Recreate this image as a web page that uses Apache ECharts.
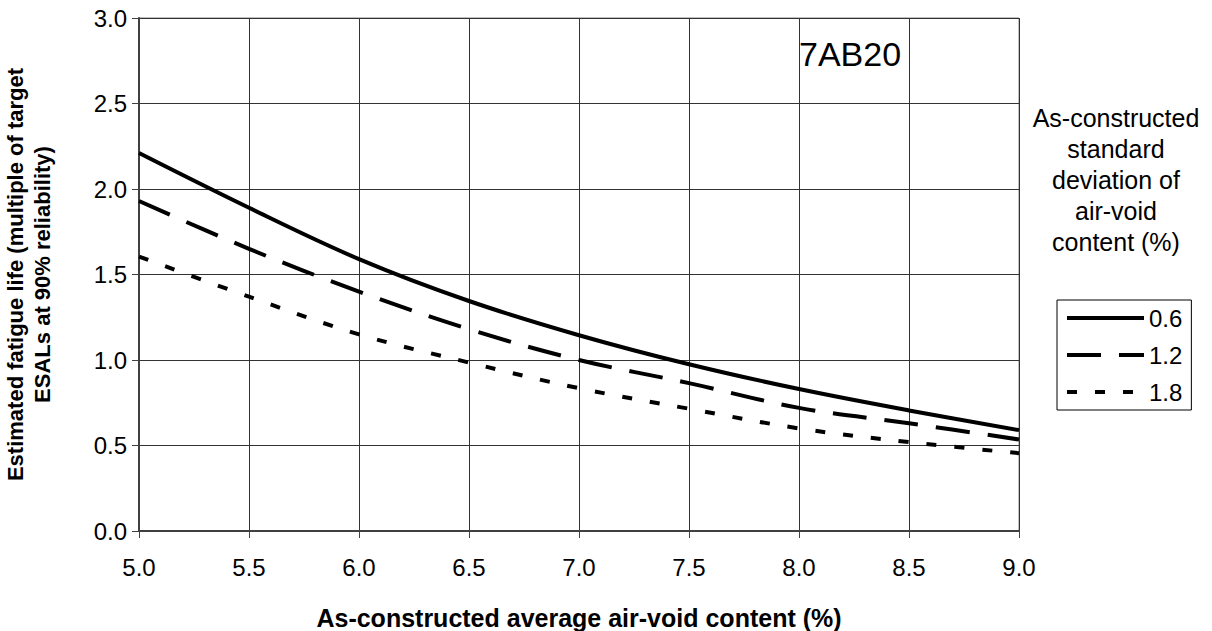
<!DOCTYPE html>
<html>
<head>
<meta charset="utf-8">
<title>7AB20 fatigue life</title>
<script src="https://cdn.jsdelivr.net/npm/echarts@6/dist/echarts.min.js"></script>
<style>
  html, body { margin: 0; padding: 0; background: #fff; }
  #chart { width: 1212px; height: 631px; }
</style>
</head>
<body>
<div id="chart"></div>
<script>
// Average air-void content (%) on the x axis
const airVoid = [5.0, 5.5, 6.0, 6.5, 7.0, 7.5, 8.0, 8.5, 9.0];
// Fatigue life (multiple of target ESALs) for each standard deviation of air-void content
const sd06 = [2.21, 1.89, 1.59, 1.345, 1.145, 0.975, 0.83, 0.705, 0.59];
const sd12 = [1.93, 1.65, 1.40, 1.18, 1.00, 0.865, 0.72, 0.63, 0.535];
const sd18 = [1.605, 1.37, 1.15, 0.985, 0.835, 0.715, 0.60, 0.52, 0.455];
const seriesNames = ['0.6', '1.2', '1.8'];

const FONT = '"Liberation Sans", Arial, sans-serif';
const pairs = ys => airVoid.map((x, i) => [x, ys[i]]);

const chart = echarts.init(document.getElementById('chart'), null, { renderer: 'svg' });

const lineSeries = (name, ys, dash) => ({
  name: name,
  type: 'line',
  data: pairs(ys),
  smooth: 0.35,
  symbol: 'none',
  silent: true,
  lineStyle: { color: '#000', width: 4, type: dash, cap: 'butt' },
  itemStyle: { color: '#000' }
});

chart.setOption({
  animation: false,
  backgroundColor: '#fff',
  grid: {
    left: 139, right: 193, top: 18, bottom: 100,
    outerBoundsMode: 'none',
    containLabel: false,
    show: true, borderColor: '#808080', borderWidth: 1, backgroundColor: '#fff'
  },
  xAxis: {
    type: 'value',
    min: 5, max: 9, interval: 0.5,
    name: 'As-constructed average air-void content (%)',
    nameLocation: 'middle',
    nameGap: 74,
    nameTextStyle: { fontFamily: FONT, fontSize: 25, fontWeight: 'bold', color: '#000' },
    axisLine: { show: true, onZero: false, lineStyle: { color: '#404040', width: 2 } },
    axisTick: { show: true, inside: false, length: 7, lineStyle: { color: '#404040', width: 1 } },
    axisLabel: {
      margin: 24, fontFamily: FONT, fontSize: 24, color: '#000',
      formatter: v => v.toFixed(1)
    },
    splitLine: { show: true, lineStyle: { color: '#333', width: 1 } }
  },
  yAxis: {
    type: 'value',
    min: 0, max: 3, interval: 0.5,
    name: 'Estimated fatigue life (multiple of target\nESALs at 90% reliability)',
    nameLocation: 'middle',
    nameGap: 83,
    nameTextStyle: { fontFamily: FONT, fontSize: 22, fontWeight: 'bold', color: '#000', lineHeight: 27 },
    axisLine: { show: true, onZero: false, lineStyle: { color: '#404040', width: 2 } },
    axisTick: { show: true, inside: false, length: 7, lineStyle: { color: '#404040', width: 1 } },
    axisLabel: {
      margin: 12, fontFamily: FONT, fontSize: 24, color: '#000',
      formatter: v => v.toFixed(1)
    },
    splitLine: { show: true, lineStyle: { color: '#333', width: 1 } }
  },
  legend: {
    data: seriesNames,
    orient: 'vertical',
    left: 1057, top: 300,
    padding: [6, 9, 6, 8],
    itemWidth: 77, itemHeight: 24, itemGap: 13,
    borderColor: '#000', borderWidth: 1, backgroundColor: '#fff',
    selectedMode: false,
    // line sample only, no marker in the middle
    itemStyle: { opacity: 0 },
    lineStyle: { width: 4, color: '#000' },
    textStyle: { fontFamily: FONT, fontSize: 24, color: '#000', lineHeight: 24 }
  },
  graphic: [
    {
      type: 'text', left: 799, top: 37, silent: true,
      style: { text: '7AB20', fontFamily: FONT, fontSize: 34, fill: '#000' }
    },
    {
      type: 'text', x: 1116, y: 180, silent: true,
      style: {
        text: 'As-constructed\nstandard\ndeviation of\nair-void\ncontent (%)',
        fontFamily: FONT, fontSize: 25, lineHeight: 31, fill: '#000',
        align: 'center', verticalAlign: 'middle'
      }
    }
  ],
  series: [
    lineSeries(seriesNames[0], sd06, 'solid'),
    lineSeries(seriesNames[1], sd12, [34, 18]),
    lineSeries(seriesNames[2], sd18, [10, 18])
  ]
});
</script>
</body>
</html>
